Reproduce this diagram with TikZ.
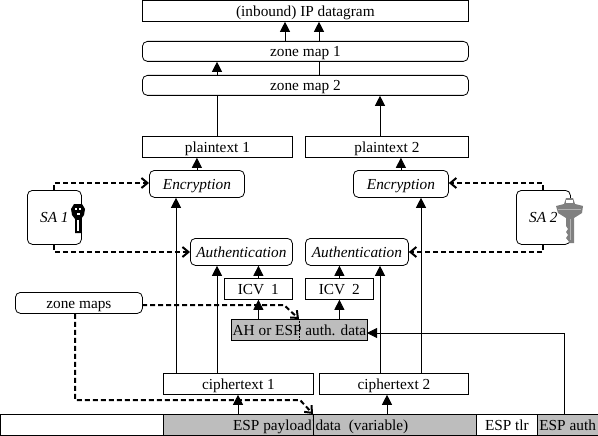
\documentclass[tikz,border=0pt]{standalone}
\usepackage{fontspec}
\setmainfont{Liberation Serif}
\usetikzlibrary{arrows.meta}
\tikzset{
  box/.style={draw, inner sep=0pt, text height=11pt, text depth=0pt, font=\fontsize{15.3}{17}\selectfont},
  roundbox/.style={box, rounded corners=5pt},
  graybox/.style={box, fill=black!26},
  up/.style={-{Triangle[length=10pt,width=10pt]}},
  dashline/.style={dash pattern=on 5pt off 3pt, line width=2pt, -{Straight Barb[length=6pt,width=10pt]}},
}
\newcommand{\placebox}[7][box]{% style, name, x1, y1, x2, y2, text
  \node[#1, minimum width=#5pt-#3pt, minimum height=#6pt-#4pt, anchor=north west] (#2) at (#3,#4) {#7};
}
\begin{document}
\begin{tikzpicture}[x=1pt, y=-1pt, line width=0.8pt]
  \useasboundingbox (0,0) rectangle (598,436);
  % stack at the top
  \placebox{ipdgram}{142}{0.5}{468}{21}{(inbound) IP datagram}
  \placebox[roundbox]{zoneone}{142}{41}{468}{61}{zone map 1}
  \placebox[roundbox]{zonetwo}{142}{75}{468}{95}{zone map 2}
  \placebox{plainone}{142}{136}{292}{157}{plaintext 1}
  \placebox{plaintwo}{305}{136}{468}{157}{plaintext 2}
  \placebox[roundbox]{encone}{149}{170}{244}{197}{\itshape Encryption}
  \placebox[roundbox]{enctwo}{353}{170}{448}{197}{\itshape Encryption}
  \placebox[roundbox]{saone}{27}{190}{81}{244}{\itshape SA 1}
  \placebox[roundbox]{satwo}{516}{190}{570}{244}{\itshape SA 2}
  \placebox[roundbox]{authone}{190}{238}{292}{265}{\itshape Authentication}
  \placebox[roundbox]{authtwo}{305}{238}{408}{265}{\itshape Authentication}
  \placebox{icvone}{224}{278}{292}{299}{ICV\hspace{7pt}1}
  \placebox{icvtwo}{305}{278}{373}{299}{ICV\hspace{7pt}2}
  \placebox[graybox]{ahdata}{231}{319}{367}{340}{AH or ESP auth. data}
  \placebox[roundbox]{zonemaps}{15}{292}{142}{313}{zone maps}
  \placebox{cipherone}{163}{373}{313}{394}{ciphertext 1}
  \placebox{ciphertwo}{319}{373}{468}{394}{ciphertext 2}
  % the packet
  \placebox{pktblank}{0.5}{414}{163}{435}{}
  \placebox[graybox]{pktpay}{163}{414}{313}{435}{\kern68pt ESP payload}
  \placebox[graybox]{pktdata}{313}{414}{476}{435}{data\hspace{4pt} (variable)\kern66pt}
  \placebox{pkttlr}{476}{414}{537}{435}{ESP tlr}
  \placebox[graybox]{pktauth}{537}{414}{597.5}{435}{ESP auth}
  \coordinate (cola) at (176,0);
  \coordinate (colb) at (217,0);
  \coordinate (colc) at (285,0);
  \coordinate (cold) at (319,0);
  \coordinate (cole) at (380,0);
  \coordinate (colf) at (421,0);
  \coordinate (colg) at (238,0);
  \coordinate (colh) at (387,0);
  \coordinate (coli) at (564,0);
  \coordinate (bendsa) at (54,183);
  \coordinate (bendsb) at (54,252);
  \coordinate (bendsc) at (543,183);
  \coordinate (bendsd) at (543,252);
  \coordinate (bendza) at (284,305);
  \coordinate (bendzb) at (75,400);
  \coordinate (bendzc) at (300,400);
  \coordinate (zoneout) at (142,305);
  \coordinate (ahin) at (299,319);
  \coordinate (pktin) at (313,414);
  \coordinate (tlrin) at (367,333);
  % solid arrows
  \draw[up] (zoneone.north -| colc) -- (ipdgram.south -| colc);
  \draw[up] (zoneone.north -| cold) -- (ipdgram.south -| cold);
  \draw (zonetwo.north -| cold) -- (zoneone.south -| cold);
  \draw[up] (zonetwo.north -| colb) -- (zoneone.south -| colb);
  \draw (plainone.north -| colb) -- (zonetwo.south -| colb);
  \draw[up] (plaintwo.north -| cole) -- (zonetwo.south -| cole);
  \draw[up] (encone.north) -- (plainone.south -| encone);
  \draw[up] (enctwo.north) -- (plaintwo.south -| enctwo);
  \draw[up] (cipherone.north -| cola) -- (encone.south -| cola);
  \draw[up] (cipherone.north -| colb) -- (authone.south -| colb);
  \draw[up] (ciphertwo.north -| cole) -- (authtwo.south -| cole);
  \draw[up] (ciphertwo.north -| colf) -- (enctwo.south -| colf);
  \draw[up] (icvone.north) -- (authone.south -| icvone);
  \draw[up] (icvtwo.north) -- (authtwo.south -| icvtwo);
  \draw[up] (ahdata.north -| icvone) -- (icvone.south);
  \draw[up] (ahdata.north -| icvtwo) -- (icvtwo.south);
  \draw[up] (pktpay.north -| colg) -- (cipherone.south -| colg);
  \draw[up] (pktdata.north -| colh) -- (ciphertwo.south -| colh);
  \draw[up] (pktauth.north -| coli) |- (tlrin);
  % dashed key and map lines
  \draw[dashline] (saone.north -| bendsa) -- (bendsa) -- (encone.west |- bendsa);
  \draw[dashline] (saone.south -| bendsb) -- (bendsb) -- (authone.west |- bendsb);
  \draw[dashline] (satwo.north -| bendsc) -- (bendsc) -- (enctwo.east |- bendsc);
  \draw[dashline] (satwo.south -| bendsd) -- (bendsd) -- (authtwo.east |- bendsd);
  \draw[dashline] (zoneout) -- (bendza) -- (ahin);
  \draw[dashline] (zonemaps.south -| bendzb) -- (bendzb) -- (bendzc) -- (pktin);
  \draw[densely dotted, line width=0.5pt] (ahin) -- (ahdata.south -| ahin);
  \draw[densely dashed, line width=0.5pt] (pktin) -- (pktpay.south east);
  % the two keys
  \fill[black] (71,209) -- (74,204) -- (82,204) -- (85,209) -- (84,215) -- (81,219) -- (82,233) -- (75,233) -- (75,219) -- (72,215) -- cycle;
  \fill[white] (75,208) rectangle (77,210);
  \fill[white] (79,208) rectangle (81,210);
  \fill[white] (77,213) rectangle (80,214.5);
  \fill[white] (77,220) rectangle (79,231);
  \fill[black!50] (556,206) -- (564,204) -- (566,198) -- (573,198) -- (575,204) -- (583,206) -- (582,213) -- (574,218) -- (574,243) -- (570,243) -- (566,238) -- (568,235) -- (566,232) -- (568,229) -- (566,226) -- (566,218) -- (558,213) -- cycle;
  \fill[white] (566,200) rectangle (573,203);
  \draw[black!30, line width=1pt] (558,209) -- (581,209);
  \draw[black!30, line width=1pt] (570,219) -- (570,240);
\end{tikzpicture}
\end{document}
